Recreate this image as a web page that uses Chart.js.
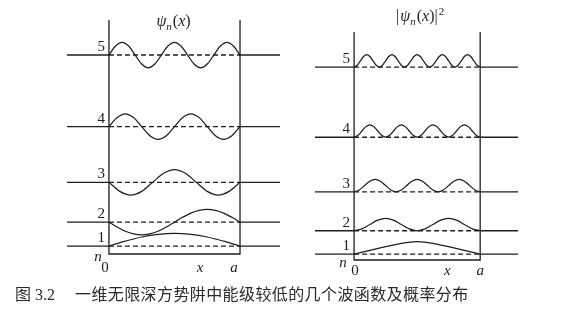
<!DOCTYPE html>
<html>
<head>
<meta charset="utf-8">
<script src="https://cdn.jsdelivr.net/npm/chart.js@4.4.1/dist/chart.umd.min.js"></script>
<style>
  html, body { margin: 0; padding: 0; background: #fff; }
  #wrap { position: relative; width: 569px; height: 321px; overflow: hidden; }
  canvas { position: absolute; left: 0; top: 0; }
  .cap { position: absolute; top: 287px; font-size: 16px; line-height: 16px; color: #2a2a2a; white-space: nowrap;
         font-family: "Liberation Serif", "Noto Sans CJK SC", serif; }
</style>
</head>
<body>
<div id="wrap">
  <canvas id="psiChart" width="569" height="321"></canvas>
  <canvas id="probChart" width="569" height="321"></canvas>
  <div class="cap" style="left:15px">图 3.2</div>
  <div class="cap" style="left:75px; letter-spacing:0.4px">一维无限深方势阱中能级较低的几个波函数及概率分布</div>
</div>

<script>
// quantum numbers and level heights (E ~ n^2)
const levels = [1, 2, 3, 4, 5];
const energies = [1, 4, 9, 16, 25];

// psi_n(x), evenly spaced from 0 to a (peak = 1)
const psi1 = [0, 0.38, 0.71, 0.92, 1, 0.92, 0.71, 0.38, 0];
const psi2 = [0, -0.38, -0.71, -0.92, -1, -0.92, -0.71, -0.38, 0, 0.38, 0.71, 0.92, 1, 0.92, 0.71, 0.38, 0];
const psi3 = [0, -0.71, -1, -0.71, 0, 0.71, 1, 0.71, 0, -0.71, -1, -0.71, 0];
const psi4 = [0, 0.71, 1, 0.71, 0, -0.71, -1, -0.71, 0, 0.71, 1, 0.71, 0, -0.71, -1, -0.71, 0];
const psi5 = [0, 0.71, 1, 0.71, 0, -0.71, -1, -0.71, 0, 0.71, 1, 0.71, 0, -0.71, -1, -0.71, 0, 0.71, 1, 0.71, 0];

// |psi_n(x)|^2
const prob1 = [0, 0.3, 0.6, 0.87, 1, 0.87, 0.6, 0.3, 0];
const prob2 = [0, 0.15, 0.5, 0.85, 1, 0.85, 0.5, 0.15, 0, 0.15, 0.5, 0.85, 1, 0.85, 0.5, 0.15, 0];
const prob3 = [0, 0.15, 0.5, 0.85, 1, 0.85, 0.5, 0.15, 0, 0.15, 0.5, 0.85, 1, 0.85, 0.5, 0.15,
               0, 0.15, 0.5, 0.85, 1, 0.85, 0.5, 0.15, 0];
const prob4 = [0, 0.15, 0.5, 0.85, 1, 0.85, 0.5, 0.15, 0, 0.15, 0.5, 0.85, 1, 0.85, 0.5, 0.15,
               0, 0.15, 0.5, 0.85, 1, 0.85, 0.5, 0.15, 0, 0.15, 0.5, 0.85, 1, 0.85, 0.5, 0.15, 0];
const prob5 = [0, 0.15, 0.5, 0.85, 1, 0.85, 0.5, 0.15, 0, 0.15, 0.5, 0.85, 1, 0.85, 0.5, 0.15,
               0, 0.15, 0.5, 0.85, 1, 0.85, 0.5, 0.15, 0, 0.15, 0.5, 0.85, 1, 0.85, 0.5, 0.15,
               0, 0.15, 0.5, 0.85, 1, 0.85, 0.5, 0.15, 0];

const INK = '#1e1e1e';
const SERIF = '"Liberation Serif", "DejaVu Serif", serif';

// builds the datasets for one panel: walls, level lines, curves
function buildDatasets(shapes, cfg) {
    const sets = [];
    sets.push({
        data: [{ x: 0, y: cfg.top }, { x: 0, y: cfg.bottom }, { x: 1, y: cfg.bottom }, { x: 1, y: cfg.top }],
        borderColor: INK, borderWidth: 1.3, tension: 0, clip: false
    });
    energies.forEach((E, i) => {
        sets.push({
            data: [{ x: cfg.xLo, y: E }, { x: 0, y: E }, { x: 1, y: E }, { x: cfg.xHi, y: E }],
            borderColor: INK, borderWidth: 1.3, tension: 0, clip: false,
            segment: { borderDash: ctx => ctx.p0DataIndex === 1 ? [5, 3] : undefined }
        });
        const s = shapes[i];
        sets.push({
            data: s.map((v, k) => ({ x: k / (s.length - 1), y: E + cfg.amp * v })),
            borderColor: INK, borderWidth: 1.25, cubicInterpolationMode: 'monotone', clip: false
        });
    });
    return sets;
}

// draws a row of text pieces (italic / subscript / superscript), centred on cx
function richText(ctx, parts, cx, cy, size) {
    const fontOf = p => (p.it ? 'italic ' : '') + Math.round(p.sub || p.sup ? size * 0.7 : size) + 'px ' + SERIF;
    let w = 0;
    parts.forEach(p => { ctx.font = fontOf(p); w += ctx.measureText(p.t).width + (p.gap || 0); });
    let x = cx - w / 2;
    ctx.textAlign = 'left';
    ctx.textBaseline = 'middle';
    parts.forEach(p => {
        ctx.font = fontOf(p);
        const dy = p.sub ? size * 0.3 : p.sup ? -size * 0.3 : 0;
        ctx.fillText(p.t, x, cy + dy);
        x += ctx.measureText(p.t).width + (p.gap || 0);
    });
}

function labelPlugin(cfg) {
    return {
        id: 'labels',
        afterDraw(chart) {
            const ctx = chart.ctx;
            const xs = chart.scales.x, ys = chart.scales.y;
            const x0 = xs.getPixelForValue(0), yb = ys.getPixelForValue(cfg.bottom);
            ctx.save();
            ctx.fillStyle = INK;
            ctx.font = '15px ' + SERIF;
            ctx.textAlign = 'right';
            ctx.textBaseline = 'middle';
            levels.forEach((n, i) => ctx.fillText(String(n), x0 - 4, ys.getPixelForValue(energies[i]) - 8));
            ctx.textAlign = 'center';
            ctx.font = 'italic 15px ' + SERIF;
            ctx.fillText('n', x0 - 11, yb + 3);
            ctx.fillText('x', xs.getPixelForValue(cfg.xMark), yb + cfg.axisDy);
            ctx.fillText('a', xs.getPixelForValue(1) - cfg.aShift, yb + cfg.axisDy);
            ctx.font = '15px ' + SERIF;
            ctx.fillText('0', x0 + cfg.zeroShift, yb + cfg.axisDy);
            richText(ctx, cfg.title, xs.getPixelForValue(0.5) + cfg.titleShift, ys.getPixelForValue(cfg.top) + cfg.titleDy, 16);
            ctx.restore();
        }
    };
}

function makeChart(id, shapes, cfg) {
    return new Chart(document.getElementById(id), {
        type: 'line',
        data: { datasets: buildDatasets(shapes, cfg) },
        options: {
            responsive: false,
            animation: false,
            events: [],
            layout: { padding: cfg.padding },
            elements: { point: { radius: 0 } },
            scales: {
                x: { type: 'linear', min: cfg.xLo, max: cfg.xHi, display: false },
                y: { type: 'linear', min: cfg.bottom, max: cfg.top, display: false }
            },
            plugins: { legend: { display: false }, tooltip: { enabled: false } }
        },
        plugins: [labelPlugin(cfg)]
    });
}

makeChart('psiChart', [psi1, psi2, psi3, psi4, psi5], {
    xLo: -0.32, xHi: 1.305, bottom: 0, top: 29.4, amp: 1.6,
    padding: { left: 67, right: 289, top: 20, bottom: 67 },
    xMark: 0.695, aShift: 6, zeroShift: -4, axisDy: 14, titleShift: -1, titleDy: 2,
    title: [{ t: 'ψ', it: true }, { t: 'n', it: true, sub: true, gap: 1 }, { t: '(' }, { t: 'x', it: true }, { t: ')' }]
});

makeChart('probChart', [prob1, prob2, prob3, prob4, prob5], {
    xLo: -0.31, xHi: 1.30, bottom: 0.25, top: 29.5, amp: 1.6,
    padding: { left: 315, right: 51, top: 32, bottom: 61 },
    xMark: 0.74, aShift: 0, zeroShift: 1, axisDy: 11, titleShift: 3, titleDy: -15,
    title: [{ t: '|', gap: 1 }, { t: 'ψ', it: true }, { t: 'n', it: true, sub: true, gap: 1 }, { t: '(' }, { t: 'x', it: true }, { t: ')' }, { t: '|', gap: 1 }, { t: '2', sup: true }]
});
</script>
</body>
</html>
